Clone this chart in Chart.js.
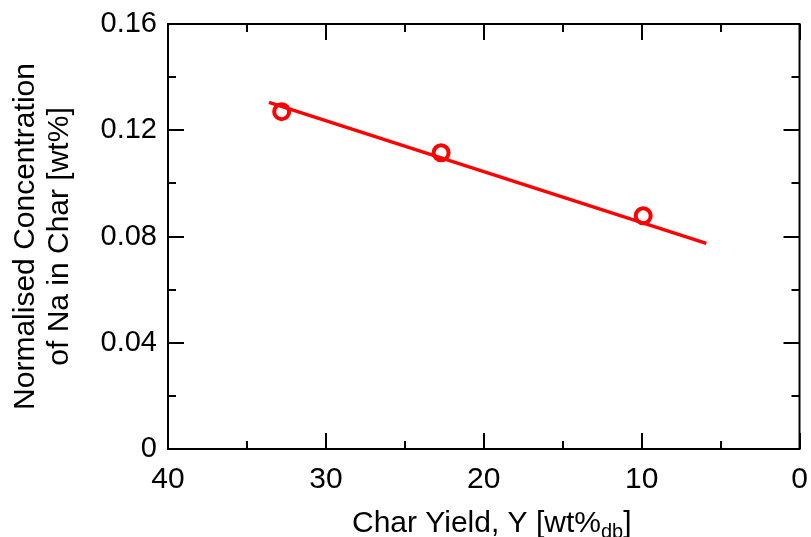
<!DOCTYPE html>
<html>
<head>
<meta charset="utf-8">
<script src="https://cdn.jsdelivr.net/npm/chart.js@4"></script>
<style>
  html, body { margin: 0; padding: 0; background: #ffffff; }
  #wrap { width: 811px; height: 537px; }
</style>
</head>
<body>
<div id="wrap"><canvas id="c" width="811" height="537"></canvas></div>
<script>
// Measured points: char yield (wt% db) vs normalised Na concentration (wt%)
const charYield = [32.8, 22.7, 9.9];
const naConc = [0.127, 0.1115, 0.0878];
// Linear fit line end points
const fitYield = [33.6, 5.9];
const fitConc = [0.1305, 0.0774];
// Axis ticks
const xTickValues = [0, 10, 20, 30, 40];
const xTickLabels = ['0', '10', '20', '30', '40'];
const xMinorTicks = [5, 15, 25, 35];
const yTickValues = [0, 0.04, 0.08, 0.12, 0.16];
const yTickLabels = ['0', '0.04', '0.08', '0.12', '0.16'];
const yMinorTicks = [0.02, 0.06, 0.10, 0.14];
const xTitleMain = 'Char Yield, Y [wt%';
const xTitleSub = 'db';
const xTitleEnd = ']';
const yTitle = ['Normalised Concentration', 'of Na in Char [wt%]'];

const FONT = '"Liberation Sans", Arial, Helvetica, sans-serif';

const framePlugin = {
  id: 'frame',
  afterDatasetsDraw(chart) {
    const { ctx, chartArea: a, scales: { x, y } } = chart;
    ctx.save();
    ctx.strokeStyle = '#000';
    ctx.lineWidth = 2;
    ctx.strokeRect(a.left, a.top, a.right - a.left, a.bottom - a.top);
    ctx.beginPath();
    const tx = (v, len) => {
      const p = Math.round(x.getPixelForValue(v));
      ctx.moveTo(p, a.bottom); ctx.lineTo(p, a.bottom - len);
      ctx.moveTo(p, a.top); ctx.lineTo(p, a.top + len);
    };
    const ty = (v, len) => {
      const p = Math.round(y.getPixelForValue(v));
      ctx.moveTo(a.left, p); ctx.lineTo(a.left + len, p);
      ctx.moveTo(a.right, p); ctx.lineTo(a.right - len, p);
    };
    xTickValues.forEach(v => tx(v, 16));
    xMinorTicks.forEach(v => tx(v, 8));
    yTickValues.forEach(v => ty(v, 16));
    yMinorTicks.forEach(v => ty(v, 8));
    ctx.stroke();

    // x-axis title with subscript
    const big = '30px ' + FONT, small = '20px ' + FONT;
    ctx.fillStyle = '#000';
    ctx.textBaseline = 'alphabetic';
    ctx.textAlign = 'left';
    ctx.font = big;
    const w1 = ctx.measureText(xTitleMain).width;
    const w3 = ctx.measureText(xTitleEnd).width;
    ctx.font = small;
    const w2 = ctx.measureText(xTitleSub).width;
    const total = w1 + w2 + w3;
    const cx = (a.left + a.right) / 2 + 8;
    const base = a.bottom + 83;
    let sx = cx - total / 2;
    ctx.font = big;
    ctx.fillText(xTitleMain, sx, base);
    ctx.font = small;
    ctx.fillText(xTitleSub, sx + w1, base + 6);
    ctx.font = big;
    ctx.fillText(xTitleEnd, sx + w1 + w2, base);
    ctx.restore();
  }
};

new Chart(document.getElementById('c'), {
  type: 'scatter',
  data: {
    datasets: [
      {
        label: 'fit',
        data: fitYield.map((v, i) => ({ x: v, y: fitConc[i] })),
        showLine: true,
        borderColor: '#ff0000',
        borderWidth: 3.3,
        pointRadius: 0,
        fill: false
      },
      {
        label: 'data',
        data: charYield.map((v, i) => ({ x: v, y: naConc[i] })),
        showLine: false,
        pointStyle: 'circle',
        pointRadius: 7.5,
        pointBorderWidth: 4,
        borderWidth: 4,
        borderColor: '#ff0000',
        pointBorderColor: '#ff0000',
        backgroundColor: '#ffffff',
        pointBackgroundColor: '#ffffff'
      }
    ]
  },
  options: {
    responsive: false,
    animation: false,
    devicePixelRatio: 1,
    layout: { padding: { top: 24, right: 7, left: 0, bottom: 0 } },
    plugins: { legend: { display: false }, tooltip: { enabled: false } },
    scales: {
      x: {
        type: 'linear',
        min: 0, max: 40,
        reverse: true,
        afterFit: s => { s.height = 88; },
        afterBuildTicks: s => { s.ticks = xTickValues.map(v => ({ value: v })); },
        grid: { display: false, drawTicks: false, tickLength: 0 },
        border: { display: false },
        ticks: {
          padding: 13,
          color: '#000',
          font: { family: FONT, size: 30 },
          maxRotation: 0,
          callback: (v) => xTickLabels[xTickValues.indexOf(v)]
        }
      },
      y: {
        type: 'linear',
        min: 0, max: 0.16,
        afterFit: s => { s.width = 168; s.paddingTop = 0; s.paddingBottom = 0; },
        afterBuildTicks: s => { s.ticks = yTickValues.map(v => ({ value: v })); },
        grid: { display: false, drawTicks: false, tickLength: 0 },
        border: { display: false },
        ticks: {
          padding: 11,
          color: '#000',
          font: { family: FONT, size: 29 },
          callback: (v) => yTickLabels[yTickValues.indexOf(v)]
        },
        title: {
          display: true,
          text: yTitle,
          color: '#000',
          font: { family: FONT, size: 30, lineHeight: 1.12 },
          padding: { top: 9, bottom: 0 }
        }
      }
    }
  },
  plugins: [framePlugin]
});
</script>
</body>
</html>
